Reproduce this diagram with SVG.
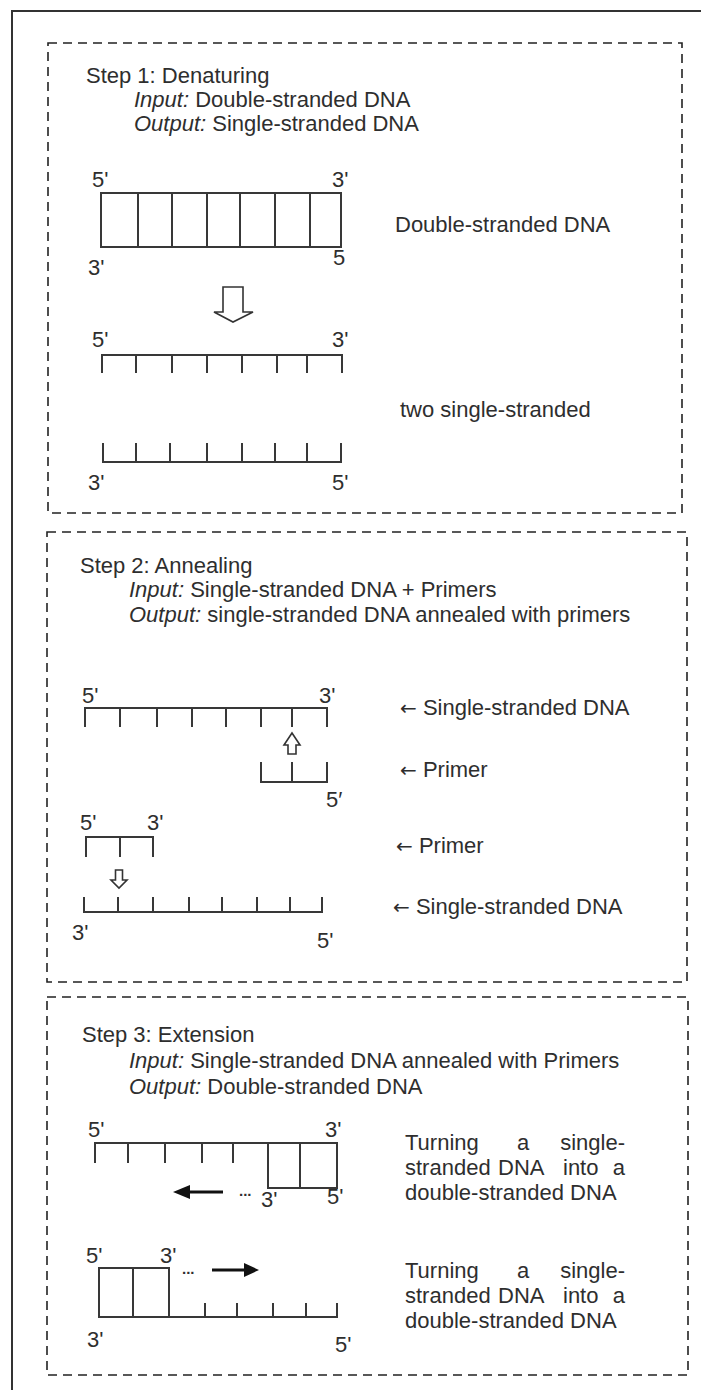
<svg xmlns="http://www.w3.org/2000/svg" width="701" height="1390" viewBox="0 0 701 1390">
<style>
text { font-family: "Liberation Sans", Arial, sans-serif; font-size: 22px; fill: #2e2e2e; }
.i { font-style: italic; }
.ar { font-family: "DejaVu Sans", sans-serif; font-size: 20px; }
.dots { font-size: 15px; font-weight: bold; }
.box { fill: none; stroke: #222; stroke-width: 1.6; stroke-dasharray: 9 6; }
.dna { fill: none; stroke: #383838; stroke-width: 2; }
.hollow { fill: #fff; stroke: #333; stroke-width: 1.6; stroke-linejoin: miter; }
.shaft { stroke: #111; stroke-width: 3; fill: none; }
.head { fill: #111; }
</style>
<rect width="701" height="1390" fill="#fff"/>
<path d="M12,1390 V11 H701" fill="none" stroke="#333" stroke-width="2"/>

<g id="step1">
<rect class="box" x="48" y="43" width="634" height="470"/>
<text x="86" y="83">Step 1: Denaturing</text>
<text x="134" y="107"><tspan class="i">Input:</tspan> Double-stranded DNA</text>
<text x="134" y="131"><tspan class="i">Output:</tspan> Single-stranded DNA</text>
<text x="92" y="187">5'</text>
<text x="332" y="187">3'</text>
<path class="dna" d="M101,193 H341 V247 H101 Z M138,193 V247 M172,193 V247 M207,193 V247 M240,193 V247 M275,193 V247 M310,193 V247"/>
<text x="88" y="275">3'</text>
<text x="333" y="265">5</text>
<text x="395" y="232">Double-stranded DNA</text>
<text x="92" y="347">5'</text>
<text x="332" y="347">3'</text>
<path class="dna" d="M102,373 V355 H342 V373 M136,355 V373 M172,355 V373 M207,355 V373 M242,355 V373 M277,355 V373 M307,355 V373"/>
<text x="400" y="417">two single-stranded</text>
<path class="dna" d="M103,443 V462 H341 V443 M136,462 V443 M170,462 V443 M207,462 V443 M242,462 V443 M275,462 V443 M307,462 V443"/>
<text x="88" y="490">3'</text>
<text x="332" y="490">5'</text>
</g>

<g id="step2">
<rect class="box" x="47" y="532" width="640" height="450"/>
<text x="80" y="573">Step 2: Annealing</text>
<text x="129" y="597"><tspan class="i">Input:</tspan> Single-stranded DNA + Primers</text>
<text x="129" y="622"><tspan class="i">Output:</tspan> single-stranded DNA annealed with primers</text>
<text x="82" y="703">5'</text>
<text x="319" y="703">3'</text>
<path class="dna" d="M85,727 V708 H327 V727 M120,708 V727 M157,708 V727 M192,708 V727 M226,708 V727 M261,708 V727 M292,708 V727"/>
<text x="400" y="715"><tspan class="ar">←</tspan> Single-stranded DNA</text>
<path class="dna" d="M261,762 V782 H327 V762 M292,782 V762"/>
<text x="400" y="777"><tspan class="ar">←</tspan> Primer</text>
<text x="326" y="807">5′</text>
<text x="80" y="830">5'</text>
<text x="147" y="830">3'</text>
<path class="dna" d="M86,857 V837 H153 V857 M120,837 V857"/>
<text x="396" y="853"><tspan class="ar">←</tspan> Primer</text>
<path class="dna" d="M84,897 V912 H322 V897 M118,912 V897 M153,912 V897 M189,912 V897 M222,912 V897 M257,912 V897 M290,912 V897"/>
<text x="393" y="914"><tspan class="ar">←</tspan> Single-stranded DNA</text>
<text x="72" y="940">3'</text>
<text x="317" y="948">5'</text>
</g>

<g id="step3">
<rect class="box" x="47" y="997" width="641" height="378"/>
<text x="82" y="1042">Step 3: Extension</text>
<text x="129" y="1068"><tspan class="i">Input:</tspan> Single-stranded DNA annealed with Primers</text>
<text x="129" y="1094"><tspan class="i">Output:</tspan> Double-stranded DNA</text>
<text x="88" y="1137">5'</text>
<text x="325" y="1137">3'</text>
<path class="dna" d="M95,1163 V1143 H337 V1188 H268 V1143 M128,1143 V1163 M165,1143 V1163 M202,1143 V1163 M233,1143 V1163 M300,1143 V1188"/>
<text x="261" y="1207">3'</text>
<text x="327" y="1204">5'</text>
<text class="dots" x="239" y="1196">...</text>
<text x="405" y="1150">Turning</text>
<text x="517" y="1150">a</text>
<text x="625" y="1150" text-anchor="end">single-</text>
<text x="405" y="1175">stranded</text>
<text x="498" y="1175">DNA</text>
<text x="563" y="1175">into</text>
<text x="625" y="1175" text-anchor="end">a</text>
<text x="405" y="1200">double-stranded DNA</text>
<text x="86" y="1263">5'</text>
<text x="160" y="1263">3'</text>
<path class="dna" d="M99,1268 H169 V1317 H99 Z M133,1268 V1317 M169,1317 H337 V1303 M205,1317 V1303 M237,1317 V1303 M273,1317 V1303 M306,1317 V1303"/>
<text class="dots" x="182" y="1274">...</text>
<text x="87" y="1347">3'</text>
<text x="335" y="1352">5'</text>
<text x="405" y="1278">Turning</text>
<text x="517" y="1278">a</text>
<text x="625" y="1278" text-anchor="end">single-</text>
<text x="405" y="1303">stranded</text>
<text x="498" y="1303">DNA</text>
<text x="563" y="1303">into</text>
<text x="625" y="1303" text-anchor="end">a</text>
<text x="405" y="1328">double-stranded DNA</text>
</g>

<g id="connectors">
<polygon class="hollow" points="223,287 243,287 243,312 253,312 233,322 214,312 223,312"/>
<polygon class="hollow" points="292,733 300,745 296,745 296,754 288,754 288,745 284,745"/>
<polygon class="hollow" points="115.5,870 122.5,870 122.5,880 127,880 119,888 111,880 115.5,880"/>
<path class="shaft" d="M188,1192 H223"/>
<polygon class="head" points="173,1192 190,1185 190,1199"/>
<path class="shaft" d="M212,1270 H246"/>
<polygon class="head" points="259,1270 244,1263 244,1277"/>
</g>
</svg>
